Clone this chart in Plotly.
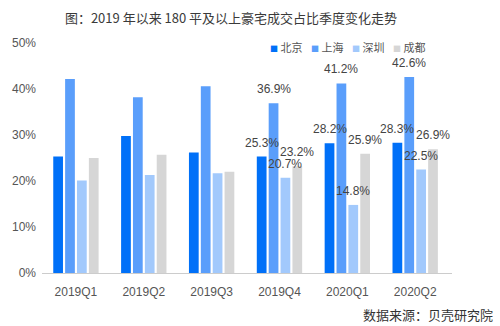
import plotly.graph_objects as go

quarters = ["2019Q1", "2019Q2", "2019Q3", "2019Q4", "2020Q1", "2020Q2"]
series_names = ["北京", "上海", "深圳", "成都"]
beijing = [25.3, 29.8, 26.2, 25.3, 28.2, 28.3]
shanghai = [42.2, 38.2, 40.6, 36.9, 41.2, 42.6]
shenzhen = [20.1, 21.3, 21.7, 20.7, 14.8, 22.5]
chengdu = [25.0, 25.7, 22.0, 23.2, 25.9, 26.9]
labeled_quarters = ["2019Q4", "2020Q1", "2020Q2"]
y_ticks = [0, 10, 20, 30, 40, 50]
y_ticktext = ["0%", "10%", "20%", "30%", "40%", "50%"]
title_text = "图：2019 年以来 180 平及以上豪宅成交占比季度变化走势"
source_text = "数据来源：贝壳研究院"

colors = ["#0070F8", "#5A9EFB", "#A2C9FC", "#D6D6D6"]
all_values = [beijing, shanghai, shenzhen, chengdu]

BARGAP = 0.3
n = len(series_names)
slot = (1 - BARGAP) / n

fig = go.Figure()
for name, vals, c in zip(series_names, all_values, colors):
    fig.add_trace(go.Bar(x=quarters, y=vals, name=name, marker=dict(color=c, line=dict(width=0)),
                         showlegend=False))

annotations = []
for s, (vals) in enumerate(all_values):
    for i, q in enumerate(quarters):
        if q in labeled_quarters:
            annotations.append(dict(
                x=i + (s - (n - 1) / 2) * slot, y=vals[i], xref="x", yref="y",
                text=f"{vals[i]:.1f}%", showarrow=False, yshift=14, yanchor="middle",
                font=dict(family="Liberation Sans, Arial", size=12, color="#444444")))

# legend (custom compact)
leg_x0_px, leg_step_px = 266.7, 41.2
plot_l, plot_w = 38, 414
for s, (name, c) in enumerate(zip(series_names, colors)):
    annotations.append(dict(
        x=(leg_x0_px + s * leg_step_px - plot_l) / plot_w, y=0.981, xref="paper", yref="paper",
        xanchor="left", yanchor="middle", showarrow=False,
        text=f"<span style='color:{c};font-size:8px'>■</span> {name}",
        font=dict(family="Noto Sans CJK SC", size=11, color="#555555")))

annotations.append(dict(
    x=(495 - plot_l) / plot_w, y=-0.182, xref="paper", yref="paper", xanchor="right", yanchor="middle",
    showarrow=False, text=source_text,
    font=dict(family="Noto Sans CJK SC", size=13, color="#333333")))

fig.update_layout(
    width=500, height=326,
    margin=dict(l=38, r=48, t=43, b=53),
    paper_bgcolor="white", plot_bgcolor="white",
    barmode="group", bargap=BARGAP, bargroupgap=0.18,
    title=dict(text=title_text, x=231 / 500, xanchor="center", y=1 - 18 / 326, yanchor="middle",
               font=dict(family="Noto Sans CJK SC", size=13, color="#3a3a3a")),
    xaxis=dict(showline=True, linecolor="#CCCCCC", linewidth=1, showgrid=False, ticks="",
               ticklabelstandoff=8,
               tickfont=dict(family="Liberation Sans, Arial", size=12, color="#555555")),
    yaxis=dict(range=[0, 50], tickvals=y_ticks, ticktext=y_ticktext, showgrid=False,
               zeroline=False, showline=False, ticks="", ticklabelstandoff=5,
               tickfont=dict(family="Liberation Sans, Arial", size=12, color="#555555")),
    annotations=annotations,
)

fig.write_html("out.html")
